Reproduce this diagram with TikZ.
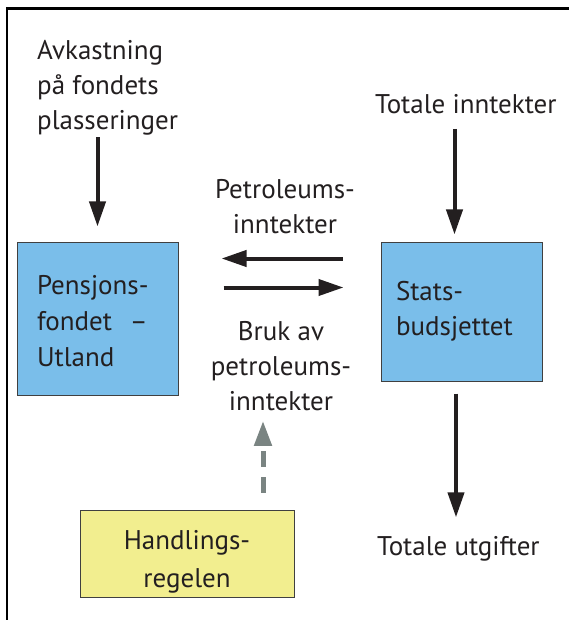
\documentclass[tikz,border=0pt]{standalone}
\usepackage{fontspec}
\setmainfont{PT Sans}
\usepackage{tikz}
\usetikzlibrary{arrows.meta}
\usetikzlibrary{positioning}
\usepackage{xcolor}

\definecolor{fondblue}{RGB}{122,190,234}
\definecolor{regelyellow}{RGB}{242,238,143}
\definecolor{dashgray}{RGB}{122,132,130}
\definecolor{inkblack}{RGB}{35,31,32}

\newcommand{\senktekst}[3]{\raisebox{-#1}[\height][\depth]{\begin{tabular}{@{}#2@{}}#3\end{tabular}}}

\begin{document}
\begin{tikzpicture}[x=1pt,y=-1pt,
  every node/.style={text=inkblack,inner sep=0pt,font=\fontsize{27}{35}\selectfont},
  box/.style={draw=black!75,line width=1pt,rectangle},
  pil/.style={draw=inkblack,line width=4pt,-{Triangle[length=25pt,width=16pt]}},
  ]

\useasboundingbox (0,0) rectangle (568,620);
\draw[line width=2.5pt] (7,622) -- (7,8.5) -- (570,8.5);

\node[box,fill=fondblue,minimum width=161pt,minimum height=153pt,text width=121pt,align=left,font=\fontsize{27}{36}\selectfont] (fond) at (97.5,318.5) {\senktekst{5pt}{l}{Pensjons-\\fondet~~--\\Utland}};
\node[box,fill=fondblue,minimum width=161pt,minimum height=139pt,text width=131pt,align=left] (bud) at (461.5,311.5) {Stats-\\budsjettet};
\node[box,fill=regelyellow,minimum width=214pt,minimum height=87pt,font=\fontsize{27}{38}\selectfont] (regel) at (187,553.5) {\senktekst{7pt}{c}{Handlings-\\regelen}};

\node[anchor=west,align=left] (avk) at (37,87.5) {Avkastning\\på fondets\\plasseringer};
\node[anchor=west] (ink) at (375,104) {Totale inntekter};
\node[anchor=west] (utg) at (377,549) {Totale utgifter};
\node[align=center] (petr) at (285,206.5) {Petroleums-\\inntekter};
\node[align=center] (bruk) at (281,366) {Bruk av\\petroleums-\\inntekter};

\draw[pil,shorten <=2pt,shorten >=15pt] (avk.south -| fond.north) -- (fond.north);
\draw[pil,shorten <=15pt,shorten >=7pt] ([xshift=-7pt]bud.north |- ink.south) -- ([xshift=-7pt]bud.north);
\draw[pil,shorten <=12pt,shorten >=19pt] ([xshift=-5.5pt]bud.south) -- ([xshift=-5.5pt]bud.south |- utg.north);

\draw[pil,shorten <=38pt,shorten >=43pt] ([yshift=-17pt]bud.north west) -- ([yshift=-17pt]fond.north east);
\draw[pil,shorten <=45pt,shorten >=37pt] ([yshift=-46pt]fond.north east) -- ([yshift=-46pt]bud.north west);

\draw[draw=dashgray,line width=5pt,dash pattern=on 16pt off 10pt,-{Triangle[length=25pt,width=17pt]},shorten <=17pt,shorten >=10pt] ([xshift=76pt]regel.north) -- ([xshift=76pt]regel.north |- bruk.south);

\end{tikzpicture}
\end{document}
